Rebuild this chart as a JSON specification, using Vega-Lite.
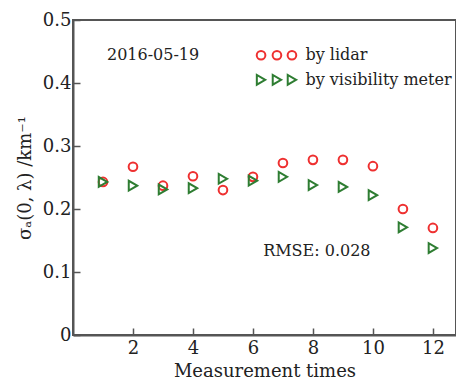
{
  "$schema": "https://vega.github.io/schema/vega-lite/v6.json",
  "autosize": {"type": "none"},
  "padding": {"left": 73, "top": 20, "right": 0, "bottom": 48},
  "width": 383,
  "height": 315,
  "background": "white",
  "config": {
    "font": "DejaVu Serif",
    "view": {"stroke": "#555555", "strokeWidth": 2},
    "axis": {
      "domainColor": "#555555",
      "domainWidth": 2,
      "tickColor": "#555555",
      "tickWidth": 1.5,
      "tickSize": -7,
      "grid": false,
      "labelFont": "DejaVu Serif",
      "labelFontSize": 18,
      "labelColor": "#222222",
      "titleFont": "DejaVu Serif",
      "titleFontSize": 18,
      "titleFontWeight": "normal",
      "titleColor": "#222222"
    }
  },
  "datasets": {
    "lidar": [
      {"t": 1, "ext": 0.243}, {"t": 2, "ext": 0.267}, {"t": 3, "ext": 0.237},
      {"t": 4, "ext": 0.252}, {"t": 5, "ext": 0.230}, {"t": 6, "ext": 0.251},
      {"t": 7, "ext": 0.273}, {"t": 8, "ext": 0.278}, {"t": 9, "ext": 0.278},
      {"t": 10, "ext": 0.268}, {"t": 11, "ext": 0.200}, {"t": 12, "ext": 0.170}
    ],
    "meter": [
      {"t": 1, "ext": 0.243}, {"t": 2, "ext": 0.237}, {"t": 3, "ext": 0.231},
      {"t": 4, "ext": 0.233}, {"t": 5, "ext": 0.248}, {"t": 6, "ext": 0.245},
      {"t": 7, "ext": 0.251}, {"t": 8, "ext": 0.238}, {"t": 9, "ext": 0.235},
      {"t": 10, "ext": 0.222}, {"t": 11, "ext": 0.171}, {"t": 12, "ext": 0.138}
    ],
    "keyLidar": [
      {"t": 6.27, "ext": 0.444}, {"t": 6.8, "ext": 0.444}, {"t": 7.3, "ext": 0.444}
    ],
    "keyMeter": [
      {"t": 6.27, "ext": 0.405}, {"t": 6.8, "ext": 0.405}, {"t": 7.3, "ext": 0.405}
    ],
    "notes": [
      {"t": 2.67, "ext": 0.444, "label": "2016-05-19"},
      {"t": 8.13, "ext": 0.133, "label": "RMSE: 0.028"}
    ],
    "keyText": [
      {"t": 7.75, "ext": 0.444, "label": "by lidar"},
      {"t": 7.75, "ext": 0.405, "label": "by visibility meter"}
    ]
  },
  "encoding": {
    "x": {
      "field": "t", "type": "quantitative",
      "scale": {"domain": [0, 12.77], "nice": false, "zero": false},
      "axis": {"values": [2, 4, 6, 8, 10, 12], "title": "Measurement times", "labelPadding": 11, "titlePadding": 5}
    },
    "y": {
      "field": "ext", "type": "quantitative",
      "scale": {"domain": [0, 0.5], "nice": false},
      "axis": {"values": [0, 0.1, 0.2, 0.3, 0.4, 0.5], "format": ".1~f", "title": "σₐ(0, λ) /km⁻¹", "labelPadding": 9, "titlePadding": 8}
    }
  },
  "layer": [
    {
      "data": {"name": "lidar"},
      "mark": {"type": "point", "shape": "circle", "filled": false, "strokeWidth": 2, "opacity": 1, "size": 75, "color": "#ee3030"}
    },
    {
      "data": {"name": "meter"},
      "mark": {"type": "point", "shape": "triangle-right", "filled": false, "strokeWidth": 2, "opacity": 1, "size": 95, "color": "#2e7d32"}
    },
    {
      "data": {"name": "keyLidar"},
      "mark": {"type": "point", "shape": "circle", "filled": false, "strokeWidth": 2, "opacity": 1, "size": 75, "color": "#ee3030"}
    },
    {
      "data": {"name": "keyMeter"},
      "mark": {"type": "point", "shape": "triangle-right", "filled": false, "strokeWidth": 2, "opacity": 1, "size": 95, "color": "#2e7d32"}
    },
    {
      "data": {"name": "notes"},
      "mark": {"type": "text", "font": "DejaVu Serif", "fontSize": 16, "color": "#222222", "align": "center", "baseline": "middle"},
      "encoding": {"text": {"field": "label"}}
    },
    {
      "data": {"name": "keyText"},
      "mark": {"type": "text", "font": "DejaVu Serif", "fontSize": 16, "color": "#222222", "align": "left", "baseline": "middle"},
      "encoding": {"text": {"field": "label"}}
    }
  ]
}
